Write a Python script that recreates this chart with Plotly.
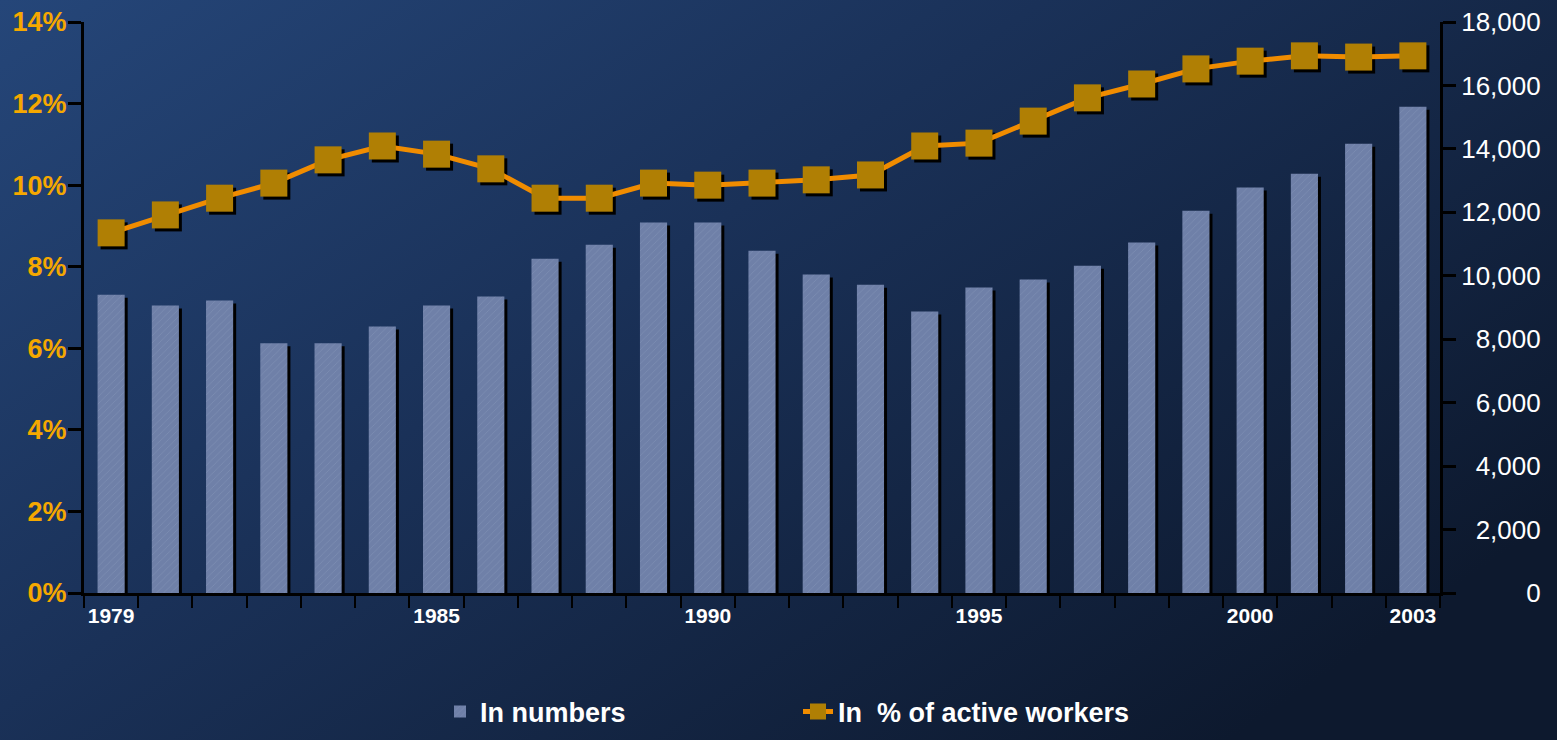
import base64
import plotly.graph_objects as go

years = list(range(1979, 2004))
in_numbers = [9400, 9060, 9220, 7870, 7870, 8400, 9060, 9350, 10540, 10980,
              11680, 11680, 10790, 10040, 9720, 8870, 9630, 9880, 10320, 11050,
              12050, 12780, 13220, 14160, 15330]
pct_active = [8.83, 9.27, 9.68, 10.05, 10.62, 10.96, 10.76, 10.40, 9.68, 9.68,
              10.05, 10.00, 10.05, 10.13, 10.25, 10.96, 11.03, 11.57, 12.14, 12.48,
              12.85, 13.04, 13.17, 13.14, 13.17]
label_years = [1979, 1985, 1990, 1995, 2000, 2003]
left_ticks = [0, 2, 4, 6, 8, 10, 12, 14]
right_ticks = [0, 2000, 4000, 6000, 8000, 10000, 12000, 14000, 16000, 18000]

W, H = 1557, 740
ML, MR, MT, MB = 84, 117, 22, 147
PW, PH = W - ML - MR, H - MT - MB

FONT = "Liberation Sans, Arial, sans-serif"
BAR_COL = "#6F80A8"
LINE_COL = "#F08C00"
MARK_COL = "#B07F04"

# shadow offsets (in data units, ~3px)
dx = 3 / (PW / 25)
dy_pct = 3 / PH * 14
dy_num = 3 / PH * 18000

# right-aligned right-axis labels using figure spaces
def pad(v):
    s = f"{v:,}"
    target = "18,000"
    missing_digits = sum(c.isdigit() for c in target) - sum(c.isdigit() for c in s)
    missing_commas = target.count(",") - s.count(",")
    return "\u2007" * missing_digits + "\u2008" * missing_commas + s

svg = f'''<svg xmlns="http://www.w3.org/2000/svg" width="{W}" height="{H}">
<defs><linearGradient id="g" x1="0" y1="0" x2="1" y2="0.7">
<stop offset="0" stop-color="#254679"/>
<stop offset="0.45" stop-color="#1A3158"/>
<stop offset="1" stop-color="#0D192E"/>
</linearGradient></defs>
<rect width="{W}" height="{H}" fill="url(#g)"/></svg>'''
bg = "data:image/svg+xml;base64," + base64.b64encode(svg.encode()).decode()

fig = go.Figure()

# bar shadows
fig.add_trace(go.Bar(
    x=years, y=in_numbers, base=-dy_num, width=0.5, offset=-0.25 + dx,
    marker=dict(color="black", line=dict(width=0)), showlegend=False,
    hoverinfo="skip", yaxis="y"))
# bars
fig.add_trace(go.Bar(
    x=years, y=in_numbers, width=0.5, name="In numbers",
    marker=dict(color=BAR_COL, line=dict(width=0),
                pattern=dict(shape="/", fgcolor="#A9B8D4", fgopacity=0.25,
                             size=5, solidity=0.15)),
    yaxis="y"))
# marker shadows
fig.add_trace(go.Scatter(
    x=[y + dx for y in years], y=[p - dy_pct for p in pct_active], mode="markers",
    marker=dict(symbol="square", size=27, color="black", line=dict(width=0)),
    showlegend=False, hoverinfo="skip", yaxis="y2"))
# line + markers
fig.add_trace(go.Scatter(
    x=years, y=pct_active, mode="lines+markers", name="In\u00a0 % of active workers",
    line=dict(color=LINE_COL, width=5),
    marker=dict(symbol="square", size=27, color=MARK_COL, line=dict(width=0)),
    yaxis="y2"))

fig.update_layout(
    width=W, height=H,
    margin=dict(l=ML, r=MR, t=MT, b=MB, pad=0, autoexpand=False),
    paper_bgcolor="#1A2F55", plot_bgcolor="rgba(0,0,0,0)",
    barmode="overlay",
    font=dict(family=FONT, color="white"),
    images=[dict(source=bg, xref="paper", yref="paper",
                 x=-ML / PW, y=1 + MT / PH, sizex=W / PW, sizey=H / PH,
                 xanchor="left", yanchor="top", sizing="stretch", layer="below")],
    xaxis=dict(
        range=[1978.5, 2003.5], showgrid=False, zeroline=False,
        showline=True, linecolor="black", linewidth=3,
        tickvals=label_years, ticktext=[str(y) for y in label_years],
        ticks="", tickfont=dict(family=FONT, size=21, color="white", weight="bold"),
        ticklabelstandoff=2, automargin=False,
        minor=dict(tick0=1978.5, dtick=1, ticks="outside", ticklen=12,
                   tickwidth=2, tickcolor="black", showgrid=False),
    ),
    yaxis=dict(
        side="right", range=[0, 18000], showgrid=False, zeroline=False,
        showline=True, linecolor="black", linewidth=3, automargin=False,
        tickvals=right_ticks, ticktext=[pad(v) for v in right_ticks],
        ticks="outside", ticklen=13, tickwidth=3, tickcolor="black",
        tickfont=dict(family=FONT, size=26, color="white"),
    ),
    yaxis2=dict(
        side="left", overlaying="y", range=[0, 14], showgrid=False, zeroline=False,
        showline=True, linecolor="black", linewidth=3, automargin=False,
        tickvals=left_ticks, ticktext=[f"{v}%" for v in left_ticks],
        ticks="outside", ticklen=13, tickwidth=3, tickcolor="black",
        ticklabelstandoff=-4,
        tickfont=dict(family=FONT, size=27, color="#F5A800", weight="bold"),
    ),
    legend=dict(
        orientation="h", xref="container", x=440 / W, xanchor="left",
        yref="container", y=1 - 712 / H, yanchor="middle",
        font=dict(family=FONT, size=27, color="white", weight="bold"),
        bgcolor="rgba(0,0,0,0)", entrywidth=313, entrywidthmode="pixels",
        itemsizing="trace",
    ),
)

fig.write_html(
    "out.html",
    config={"displayModeBar": False},
    post_script="document.body.style.margin='0';document.body.style.padding='0';"
                "document.body.style.overflow='hidden';",
)
